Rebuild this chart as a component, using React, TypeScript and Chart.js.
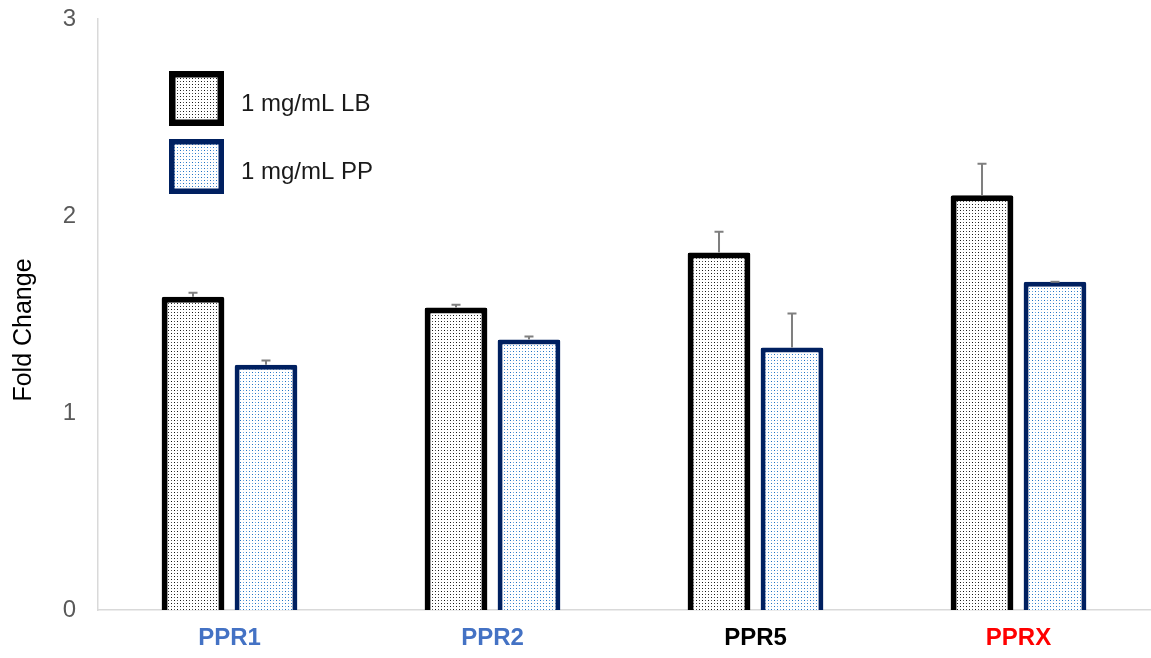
import React, { useEffect, useRef } from "react";
import { Chart, registerables } from "chart.js";
Chart.register(...registerables);

const categories = ["PPR1", "PPR2", "PPR5", "PPRX"];
const categoryColors = ["#4472C4", "#4472C4", "#000000", "#FF0000"];
const seriesLabels = ["1 mg/mL LB", "1 mg/mL PP"];
const yTitle = "Fold Change";
const lbValues = [1.59, 1.535, 1.815, 2.105];
const lbErrors = [0.02, 0.015, 0.105, 0.16];
const ppValues = [1.245, 1.373, 1.333, 1.666];
const ppErrors = [0.021, 0.015, 0.172, 0.0];
const yMin = 0;
const yMax = 3;
const yStep = 1;

const FONT = "'Liberation Sans', Arial, sans-serif";

function makePattern(ctx: CanvasRenderingContext2D, dark: string, light: string) {
  const c = document.createElement("canvas");
  c.width = 6;
  c.height = 6;
  const g = c.getContext("2d")!;
  g.fillStyle = "#ffffff";
  g.fillRect(0, 0, 6, 6);
  g.fillStyle = dark;
  g.fillRect(0, 0, 1, 1);
  g.fillRect(3, 3, 1, 1);
  g.fillStyle = light;
  g.fillRect(3, 0, 1, 1);
  g.fillRect(0, 3, 1, 1);
  return ctx.createPattern(c, "repeat")!;
}

export default function App() {
  const ref = useRef<HTMLCanvasElement | null>(null);
  useEffect(() => {
    const canvas = ref.current!;
    const ctx = canvas.getContext("2d")!;
    const lbPattern = makePattern(ctx, "#111111", "#555555");
    const ppPattern = makePattern(ctx, "#1f6fc0", "#6aa8e2");
    const errors = [lbErrors, ppErrors];
    const borders = ["#000000", "#002060"];
    const borderWidths = [6, 5];
    const patterns = [lbPattern, ppPattern];

    const errorPlugin = {
      id: "errbars",
      afterDatasetsDraw(chart: any) {
        const c = chart.ctx;
        const ys = chart.scales.y;
        chart.data.datasets.forEach((ds: any, di: number) => {
          const meta = chart.getDatasetMeta(di);
          meta.data.forEach((bar: any, i: number) => {
            const v = ds.data[i] + errors[di][i];
            const yTop = ys.getPixelForValue(v);
            c.save();
            c.strokeStyle = "#7f7f7f";
            c.lineWidth = 2;
            c.beginPath();
            c.moveTo(bar.x, bar.y);
            c.lineTo(bar.x, yTop);
            c.moveTo(bar.x - 4.5, yTop);
            c.lineTo(bar.x + 4.5, yTop);
            c.stroke();
            c.restore();
          });
        });
      },
    };

    const legendPlugin = {
      id: "customLegend",
      afterDraw(chart: any) {
        const c = chart.ctx;
        const boxX = 169;
        const boxYs = [71, 139];
        const size = 55;
        seriesLabels.forEach((lab, i) => {
          const y = boxYs[i];
          c.save();
          c.fillStyle = patterns[i];
          c.fillRect(boxX, y, size, size);
          const bw = borderWidths[i] + 0.5;
          c.strokeStyle = borders[i];
          c.lineWidth = bw;
          c.strokeRect(boxX + bw / 2, y + bw / 2, size - bw, size - bw);
          c.fillStyle = "#1a1a1a";
          c.font = `24px ${FONT}`;
          c.textBaseline = "middle";
          c.textAlign = "left";
          c.fillText(lab, boxX + 72, y + size / 2 + 6);
          c.restore();
        });
        // y axis title
        c.save();
        c.translate(24, 330);
        c.rotate(-Math.PI / 2);
        c.fillStyle = "#000000";
        c.font = `25px ${FONT}`;
        c.textAlign = "center";
        c.textBaseline = "middle";
        c.fillText(yTitle, 0, 0);
        c.restore();
      },
    };

    const chart = new Chart(canvas, {
      type: "bar",
      data: {
        labels: categories,
        datasets: [
          {
            label: seriesLabels[0],
            data: lbValues,
            backgroundColor: lbPattern,
            borderColor: borders[0],
            borderWidth: borderWidths[0],
            borderRadius: 2,
            borderSkipped: "start",
            categoryPercentage: 0.555,
            barPercentage: 0.86,
          },
          {
            label: seriesLabels[1],
            data: ppValues,
            backgroundColor: ppPattern,
            borderColor: borders[1],
            borderWidth: borderWidths[1],
            borderRadius: 2,
            borderSkipped: "start",
            categoryPercentage: 0.555,
            barPercentage: 0.86,
          },
        ],
      },
      options: {
        responsive: false,
        animation: false,
        layout: { padding: { top: 19, right: 1, left: 0, bottom: 0 } },
        plugins: {
          legend: { display: false },
          tooltip: { enabled: false },
          title: { display: false },
        },
        scales: {
          x: {
            grid: { display: false, drawTicks: false },
            border: { display: true, color: "#d9d9d9", width: 1.5 },
            ticks: {
              padding: 14,
              color: (c: any) => categoryColors[c.index],
              font: { family: FONT, size: 24, weight: "bold" },
            },
            afterFit(scale: any) {
              scale.height = 48;
              scale.paddingLeft = 0;
              scale.paddingRight = 0;
            },
          },
          y: {
            min: yMin,
            max: yMax,
            ticks: {
              stepSize: yStep,
              padding: 22,
              color: "#595959",
              font: { family: FONT, size: 24 },
            },
            grid: { display: false, drawTicks: false },
            border: { display: true, color: "#d9d9d9", width: 1.5 },
            title: { display: false },
            afterFit(scale: any) {
              scale.width = 98;
              scale.paddingTop = 0;
              scale.paddingBottom = 0;
            },
          },
        },
      },
      plugins: [errorPlugin, legendPlugin],
    });
    return () => chart.destroy();
  }, []);

  return (
    <div style={{ position: "fixed", left: 0, top: 0, width: 1151, height: 658, background: "#fff" }}>
      <canvas ref={ref} width={1151} height={658} />
    </div>
  );
}
